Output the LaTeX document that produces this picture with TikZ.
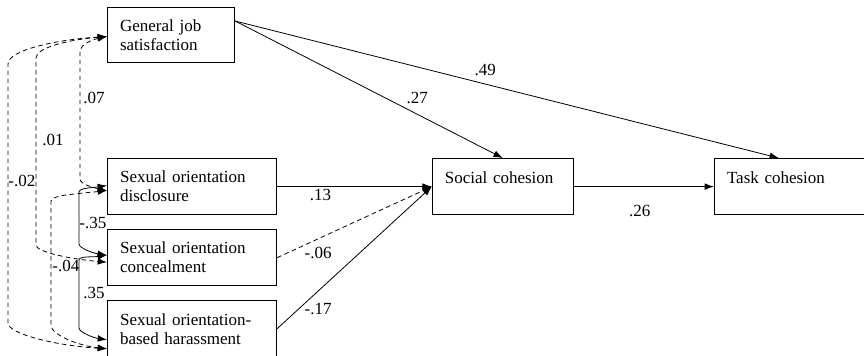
\documentclass[tikz,border=0pt]{standalone}
\usepackage{fontspec}
\setmainfont{Liberation Serif}
\usetikzlibrary{
	arrows.meta,
	positioning,
	calc
}

\begin{document}
\begin{tikzpicture}[
		x = 0.75pt, y = -0.75pt,
		node distance = 10.5pt and 116pt,
		font = \fontsize{12.75}{14.25}\selectfont,
		box/.style={
			draw,
			rectangle,
			line width = 0.8pt,
			minimum height = 42pt,
			inner xsep = 9.4pt,
			align = left
		},
		gjsbox/.style={box, text width = 76.5pt, minimum height = 41.25pt},
		sobox/.style={box, text width = 108pt},
		cohbox/.style={box, text width = 87pt},
		lbl/.style={inner sep = 0pt},
		link/.style={line width = 0.6pt, -{Latex[length=7pt, width=5pt]}},
		cov/.style={line width = 0.6pt, {Latex[length=7pt, width=5pt]}-{Latex[length=7pt, width=5pt]}},
		broken/.style={dash pattern = on 3.5pt off 2.5pt}
		]
		\useasboundingbox (0,0) rectangle (864,355);
		
		\node[gjsbox, anchor = north west] (gjs) at (107,7) {General job\\satisfaction};
		\node[sobox, below = 71.25pt of gjs.south west, anchor = north west] (sod) {Sexual orientation\\disclosure};
		\node[sobox, below = of sod] (soc) {Sexual orientation\\concealment};
		\node[sobox, below = of soc] (soh) {Sexual orientation-\\based harassment};
		\node[cohbox, right = of sod] (sc) {Social cohesion\\\mbox{}};
		\node[box, text width = 101.2pt, right = 105pt of sc] (tc) {Task cohesion\\\mbox{}};
		
		% arrow ends on the boxes
		\coordinate (g1) at ($(gjs.west)+(0,1.5)$);
		\coordinate (d1) at ($(sod.west)+(0,-1)$);
		\coordinate (d2) at ($(sod.west)+(0,4)$);
		\coordinate (c1) at ($(soc.west)+(0,-2.5)$);
		\coordinate (c2) at ($(soc.west)+(0,4.5)$);
		\coordinate (h1) at ($(soh.west)+(0,11)$);
		\coordinate (h2) at ($(soh.west)+(0,20)$);
		\coordinate (gout) at ($(gjs.north east)+(0,14)$);
		\coordinate (tcin) at ($(tc.north west)+(65,0)$);
		
		% paths
		\draw[link] (gout) -- node[lbl, pos = 0.68, above = 7.9pt] (w27) {.27} (sc.north);
		\draw[link] (gout) -- node[lbl, pos = 0.46, above = 5.6pt] (w49) {.49} (tcin);
		\draw[link] (sod) -- node[lbl, pos = 0.28, below = 1.5pt] (w13) {.13} (sc);
		\draw[link, broken] (soc.east) -- node[lbl, pos = 0.265, below = 6pt] (w06) {-.06} (sc.west);
		\draw[link] (soh.east) -- node[lbl, pos = 0.265, below = 9pt] (w17) {-.17} (sc.west);
		\draw[link] (sc) -- node[lbl, pos = 0.47, below = 14pt] (w26) {.26} (tc);
		
		% correlations
		\draw[cov, broken] (g1) .. controls +(-14,3) and +(0,-8) .. (80,52)
			-- node[lbl, pos = 0.36, right = 2.25pt] (w07) {.07} (80,179)
			.. controls +(0,5) and +(-14,-3) .. (d2);
		\draw[cov, broken] (g1) .. controls +(-36,3) and +(0,-11) .. (36,58)
			-- node[lbl, pos = 0.44, right = 4.5pt] (w01) {.01} (36,245)
			.. controls +(0,7) and +(-36,-3) .. (c2);
		\draw[cov, broken] (g1) .. controls +(-50,3) and +(0,-14) .. (8,64)
			-- node[lbl, pos = 0.45, anchor = west] (w02) {-.02} (8,323)
			.. controls +(0,11) and +(-50,-3) .. (h2);
		\draw[cov] (d1) .. controls +(-14,2) and +(0,-4) .. (79,192)
			-- node[lbl, pos = 0.6, anchor = west] (w35a) {-.35} (79,244)
			.. controls +(0,4) and +(-14,-2) .. (c1);
		\draw[cov, broken] (d2) .. controls +(-28,3) and +(0,-6) .. (51,201)
			-- node[lbl, pos = 0.52, right = 0.75pt] (w04) {-.04} (51,325)
			.. controls +(0,10) and +(-28,-3) .. (h2);
		\draw[cov] (c1) .. controls +(-14,2) and +(0,-4) .. (79,260)
			-- node[lbl, pos = 0.49, right = 3pt] (w35b) {.35} (79,328)
			.. controls +(0,4) and +(-14,-2) .. (h1);
	\end{tikzpicture}
\end{document}
